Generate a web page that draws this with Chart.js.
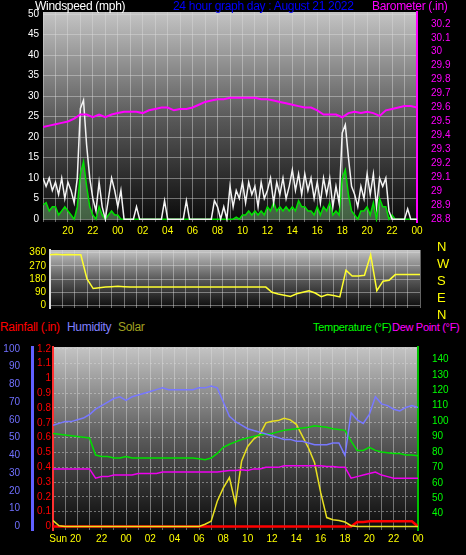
<!DOCTYPE html>
<html><head><meta charset="utf-8">
<script src="https://cdn.jsdelivr.net/npm/chart.js@4.4.0/dist/chart.umd.min.js"></script>
<style>
body{margin:0;background:#000;width:466px;height:555px;overflow:hidden;position:relative;font-family:"Liberation Sans",Arial,sans-serif}
canvas{position:absolute}
.t{position:absolute;font-size:12px;white-space:nowrap;line-height:12px;letter-spacing:-0.3px}
</style></head><body>
<canvas id="c1" style="left:0px;top:0px" width="466" height="240"></canvas>
<canvas id="c2" style="left:0px;top:240px" width="466" height="78"></canvas>
<canvas id="c3" style="left:0px;top:335px" width="466" height="220"></canvas>
<div class="t" style="left:35px;top:0;color:#fff">Windspeed (mph)</div>
<div class="t" style="left:173px;top:0;color:#0000ff">24 hour graph day : August 21 2022</div>
<div class="t" style="left:372px;top:0;color:#ff00ff">Barometer (.in)</div>
<div class="t" style="left:0;top:321px;color:#ff0000">Rainfall (.in)</div>
<div class="t" style="left:67px;top:321px;color:#8080ff">Humidity</div>
<div class="t" style="left:118px;top:321px;color:#a0a020">Solar</div>
<div class="t" style="left:313px;top:321px;color:#00ff00;font-size:11px">Temperature (°F)</div>
<div class="t" style="left:392px;top:321px;color:#ff00ff;font-size:11px">Dew Point (°F)</div>
<div class="t" style="left:437px;top:238px;color:#ffff00;font-size:13px;line-height:17px">N<br>W<br>S<br>E<br>N</div>
<script>
const startHour = 18;
const windGust = [10,8,10,7, 9,6,10,5, 9,7,4,10, 27,29,18,10, 5,2,9,3, 0,5,10,7, 3,7,0,0, 0,0,3,0, 0,0,0,0, 0,0,0,4.5, 0,0,0,0, 0,0,4.5,0, 0,0,0,0, 0,0,0,4.5, 3,0,3,0, 8,3,7,5, 9,4,9,6, 8,3,9,5, 7,10,4,9, 6,10,5,8, 12,7,11,6, 11,7,10,5, 9,4,10,6, 10,3,8,4, 21,23,15,8, 6,3,8,5, 11,6,11,3, 10,8,10,2, 0,0,0,0, 0,2.5,0,0, 0];
const windAvg = [3.5,4,2,3, 3,1,2,3, 2,1,0,3, 11,14,8,3, 1,0,3,1, 0,1,2,1, 1,0,0,0, 0,0,0,0, 0,0,0,0, 0,0,0,0, 0,0,0,0, 0,0,0,0, 0,0,0,0, 0,0,0,0, 0,0,0,0, 0,0,0.5,0, 1,1,2,1, 2,1,2,1, 3,2,4,2, 3,2,3,2, 3,2,4.5,3, 3,2,2,1, 3,1,3,2, 4,1,2,1, 10,12,6,2, 1,0,2,2, 3,1,4,0, 5,3,3,0, 1,0,0,0, 0,0,0,0, 0];
const barometer = [29.46,29.47,29.48,29.49,29.50,29.52,29.55,29.55,29.53,29.55, 29.53,29.55,29.56,29.57,29.57,29.57,29.56,29.58,29.59,29.60, 29.60,29.58,29.59,29.59,29.60,29.62,29.64,29.65,29.66,29.66, 29.67,29.67,29.67,29.67,29.67,29.66,29.66,29.65,29.64,29.63, 29.62,29.61,29.60,29.60,29.58,29.55,29.55,29.55,29.53,29.56, 29.57,29.56,29.57,29.56,29.54,29.58,29.59,29.60,29.61,29.61, 29.60];
const windDir = [345,348,345,346,345,345,180,115,120,125, 128,130,128,125,125,125,125,125,125,125, 125,125,125,125,125,125,125,125,125,125, 125,125,125,125,125,125,90,78,70,62, 80,90,100,85,60,75,68,58,240,200, 200,205,345,100,165,172,210,210,210,210, 210];
const temperature = [92,91.5,91,90.5,90,89.5,89,78,77,77, 76,76,77,76,76,76,76,76,76,76, 76,76,76,76,75.5,75,76,79,83,85, 86.5,88,89,90,91,91.5,92,93,94,94.5, 95,95.5,96,97,96.5,96,95,94.5,94,87, 81,81,83,81,80,79.5,79,79,78,78, 77.5];
const dewPoint = [69,69,69,69,69,69,69,63,64,64, 65,65,65,65,66,66,66,66,67,67, 67,67,67,67,67,67,67,67,67.5,68, 68,68.5,68,69,69,70,70,70,71,71, 71,71,71,71,71,70.5,70.5,70,70,63, 64,65,66,67,65,64,63,63,63,63, 63];
const humidity = [57,58,59,59,60,61,63,66,68,70, 72,73,71,73,74,75,76,77,78,77, 77,77,77,77,78,78,79,78,70,62, 59,57,55,54,53,52,51,50,49,49, 48,48,47,46,46,46,47,47,40,64, 60,58,63,73,69,68,66,65,67,68, 67];
const solar = [40,5,0,0,0,0,0,0,0,0, 0,0,0,0,0,0,0,0,0,0, 0,0,0,0,0,15,35,170,260,330, 150,440,540,590,620,700,710,715,730,720, 690,610,530,430,230,60,45,40,30,5, 0,0,0,0,0,0,0,0,0,0, 0];
const rainfall = [0,0,0,0,0,0,0,0,0,0, 0,0,0,0,0,0,0,0,0,0, 0,0,0,0,0,0,0,0,0,0, 0,0,0,0,0,0,0,0,0,0, 0,0,0,0,0,0,0,0,0,0, 0.03,0.03,0.035,0.035,0.035,0.035,0.035,0.035,0.035,0.035, 0];
const windTicks = [0,5,10,15,20,25,30,35,40,45,50];
const baroTicks = [28.8,28.9,29,29.1,29.2,29.3,29.4,29.5,29.6,29.7,29.8,29.9,30,30.1,30.2];
const dirTicks = [0,90,180,270,360];
const humTicks = [0,10,20,30,40,50,60,70,80,90,100];
const rainTicks = [0,0.1,0.2,0.3,0.4,0.5,0.6,0.7,0.8,0.9,1,1.1,1.2];
const tempTicks = [40,50,60,70,80,90,100,110,120,130,140];

const pts = (arr, step) => arr.map((v,i)=>({x:i*step,y:v}));
const F = {family:'"Liberation Sans",Arial,sans-serif',size:10};
const bg = {id:'bg',beforeDraw(c){const a=c.chartArea,x=c.ctx;const g=x.createLinearGradient(0,a.top,0,a.bottom);g.addColorStop(0,'#c4c4c4');g.addColorStop(0.5,'#5a5a5a');g.addColorStop(1,'#0a0a0a');x.save();x.fillStyle=g;x.fillRect(a.left,a.top,a.right-a.left,a.bottom-a.top);x.restore();}};
const fixT = arr => (ax)=>{ax.ticks = arr.map(v=>({value:v}));};
const fitW = w => (ax)=>{ax.width=w;};
const fitH = h => (ax)=>{ax.height=h;};
const grid = {color:'rgba(220,220,220,0.45)',borderDash:[1,2],drawTicks:false};
function xScale(showLabels, h, labelFn){
  return {type:'linear',min:0,max:30,afterBuildTicks:(ax)=>{ax.ticks=[];for(let i=0;i<=30;i++)ax.ticks.push({value:i});},
    afterFit:fitH(h),grid:grid,border:{display:false},
    ticks:{display:showLabels,color:'#ffff00',font:F,maxRotation:0,autoSkip:false,padding:3,callback:labelFn}};
}
const hourLabel = v => (v%2===0 && v>0) ? String((startHour+v)%24).padStart(2,'0') : '';
const baseOpts = {responsive:false,animation:false,plugins:{legend:{display:false},tooltip:{enabled:false}},elements:{point:{radius:0},line:{tension:0,borderWidth:1.5}}};

new Chart(document.getElementById('c1'),{type:'line',plugins:[bg],
  data:{datasets:[
    {data:pts(barometer,0.5),borderColor:'#ff00ff',yAxisID:'yb',borderWidth:2},
    {data:pts(windGust,0.25),borderColor:'#f4f4f4',yAxisID:'y'},
    {data:pts(windAvg,0.25),borderColor:'#00e000',backgroundColor:'rgba(170,255,170,0.35)',fill:'origin',yAxisID:'y'}]},
  options:{...baseOpts,layout:{padding:{top:10,right:0,left:0,bottom:0}},
    scales:{x:xScale(true,18,hourLabel),
      y:{position:'left',min:-0.7,max:50.5,afterBuildTicks:fixT(windTicks),afterFit:fitW(43),grid:grid,border:{display:false},ticks:{color:'#fff',font:F,padding:4}},
      yb:{position:'right',min:28.779,max:30.285,afterBuildTicks:fixT(baroTicks),afterFit:fitW(49),grid:{display:false},border:{color:'#ff00ff',width:2},ticks:{color:'#ff00ff',font:F,padding:6,callback:v=>String(+v.toFixed(1))}}}}});

new Chart(document.getElementById('c2'),{type:'line',plugins:[bg],
  data:{datasets:[{data:pts(windDir,0.5),borderColor:'#ffff30',yAxisID:'y'}]},
  options:{...baseOpts,layout:{padding:{top:3,right:0,left:0,bottom:0}},
    scales:{x:xScale(false,5,hourLabel),
      y:{position:'left',min:-17,max:377,afterBuildTicks:fixT(dirTicks),afterFit:fitW(50),grid:grid,border:{color:'#ddd',width:2},ticks:{color:'#ffff00',font:F,padding:4}},
      yr:{position:'right',afterFit:fitW(46),display:true,grid:{display:false},border:{display:false},ticks:{display:false}}}}});

new Chart(document.getElementById('c3'),{type:'line',plugins:[bg],
  data:{datasets:[
    {data:pts(humidity,0.5),borderColor:'#7878ff',yAxisID:'yh'},
    {data:pts(temperature,0.5),borderColor:'#00e000',yAxisID:'yt'},
    {data:pts(dewPoint,0.5),borderColor:'#ee00ee',yAxisID:'yt'},
    {data:pts(solar,0.5),borderColor:'#e8e020',yAxisID:'ys'},
    {data:pts(rainfall,0.5),borderColor:'#ff0000',borderWidth:2.5,yAxisID:'yr'}]},
  options:{...baseOpts,layout:{padding:{top:5,right:0,left:0,bottom:0}},
    scales:{x:xScale(true,25,v=>v===1?'Sun 20':(v%2===0&&v>2?hourLabel(v):'')),
      yh:{position:'left',weight:2,min:-2,max:101,afterBuildTicks:fixT(humTicks),afterFit:fitW(32),grid:{display:false},border:{color:'#6060ff',width:3},ticks:{color:'#7070ff',font:F,padding:4}},
      yr:{position:'left',weight:1,min:-0.024,max:1.212,afterBuildTicks:fixT(rainTicks),afterFit:fitW(21),grid:grid,border:{color:'#ff3030',width:2,dash:[2,2]},ticks:{color:'#ff0000',font:F,padding:2,callback:v=>String(+v.toFixed(1))}},
      ys:{display:false,min:-24,max:1212},
      yt:{position:'right',min:29.4,max:148,afterBuildTicks:fixT(tempTicks),afterFit:fitW(48),grid:{display:false},border:{color:'#00c000',width:2},ticks:{color:'#00ff00',font:F,padding:6}}}}});
</script></body></html>
